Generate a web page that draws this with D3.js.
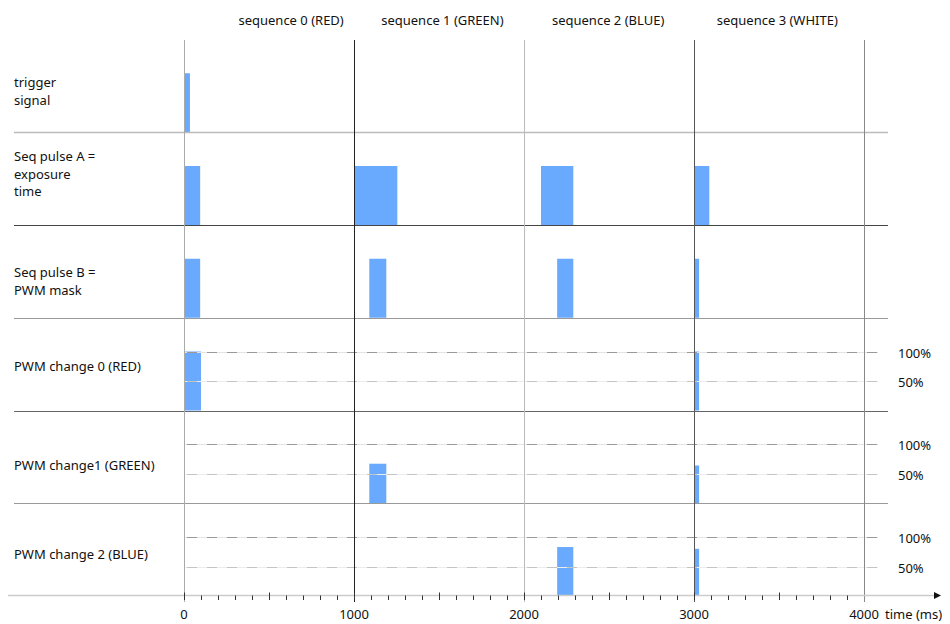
<!DOCTYPE html>
<html>
<head>
<meta charset="utf-8">
<script src="https://cdn.jsdelivr.net/npm/d3@7"></script>
<style>
  body { margin: 0; background: #fff; }
  text { font-family: "Noto Sans", sans-serif; font-size: 13px; fill: #111; }
</style>
</head>
<body>
<div id="chart"></div>
<script>
// row labels, one entry per line of text
var rowLabels = [
    ['trigger', 'signal'],
    ['Seq pulse A =', 'exposure', 'time'],
    ['Seq pulse B =', 'PWM mask'],
    ['PWM change 0 (RED)'],
    ['PWM change1 (GREEN)'],
    ['PWM change 2 (BLUE)']
]
// pulses per row: [start ms, end ms, level 0..1]
var triggerPulses = [[0, 35, 1]]
var seqAPulses = [[0, 95, 1], [1000, 1255, 1], [2100, 2290, 1], [3000, 3090, 1]]
var seqBPulses = [[0, 95, 1], [1090, 1190, 1], [2195, 2290, 1], [3000, 3030, 1]]
var pwm0Pulses = [[0, 100, 1], [3000, 3030, 1]]
var pwm1Pulses = [[1090, 1190, 0.67], [3000, 3030, 0.64]]
var pwm2Pulses = [[2195, 2290, 0.83], [3000, 3030, 0.8]]
var allPulses = [triggerPulses, seqAPulses, seqBPulses, pwm0Pulses, pwm1Pulses, pwm2Pulses]

var sequenceNames = ['sequence 0 (RED)', 'sequence 1 (GREEN)', 'sequence 2 (BLUE)', 'sequence 3 (WHITE)']
var sequenceLabelAt = [630, 1520, 2495, 3490]
var boundaries = [0, 1000, 2000, 3000, 4000]
var levelTicks = [1, 0.5]
var levelLabels = ['100%', '50%']

var width = 950
var height = 624

var svg = d3.select('#chart')
    .append('svg')
    .attr('width', width)
    .attr('height', height)

// time scale
var x = d3.scaleLinear().domain([0, 4000]).range([184, 864])

// rows stacked from top
var rowBand = d3.scaleBand()
    .domain(d3.range(rowLabels.length))
    .range([39.5, 596])
    .paddingInner(0)
var barH = 59

function levelScale(i) {
    var bottom = rowBand(i) + rowBand.bandwidth()
    return d3.scaleLinear().domain([0, 1]).range([bottom, bottom - barH])
}

// bars first, lines go on top
allPulses.forEach(function (pulses, i) {
    var y = levelScale(i)
    svg.append('g')
        .selectAll('rect')
        .data(pulses)
        .enter()
        .append('rect')
        .attr('x', function (d) { return x(d[0]) })
        .attr('width', function (d) { return x(d[1]) - x(d[0]) })
        .attr('y', function (d) { return y(d[2]) })
        .attr('height', function (d) { return y(0) - y(d[2]) })
        .attr('fill', '#69aaff')
})

// dashed level lines in the PWM rows
var pwmRows = [3, 4, 5]
pwmRows.forEach(function (i) {
    var y = levelScale(i)
    levelTicks.forEach(function (lv, k) {
        var yy = Math.round(y(lv)) + 0.5
        svg.append('line')
            .attr('x1', x(0)).attr('x2', 878)
            .attr('y1', yy).attr('y2', yy)
            .attr('stroke', k == 0 ? '#e4e4e4' : '#ececec')
        svg.append('line')
            .attr('x1', x(0) + 3).attr('x2', 878)
            .attr('y1', yy).attr('y2', yy)
            .attr('stroke', k == 0 ? '#999' : '#c4c4c4')
            .attr('stroke-dasharray', '10,10')
        svg.append('text')
            .attr('x', 898)
            .attr('y', yy + 5)
            .text(levelLabels[k])
    })
})

// row separators
var sepColors = ['#bbb', '#444', '#999', '#666', '#999']
d3.range(rowLabels.length - 1).forEach(function (i) {
    var yy = Math.round(rowBand(i) + rowBand.bandwidth()) + 0.5
    svg.append('line')
        .attr('x1', 14).attr('x2', 888)
        .attr('y1', yy).attr('y2', yy)
        .attr('stroke', sepColors[i])
        .attr('stroke-width', i == 0 ? 1.5 : 1)
})

// vertical sequence boundaries
var vColors = ['#aaa', '#222', '#bbb', '#555', '#888']
svg.append('g')
    .selectAll('line')
    .data(boundaries)
    .enter()
    .append('line')
    .attr('x1', function (d) { return Math.round(x(d)) + 0.5 })
    .attr('x2', function (d) { return Math.round(x(d)) + 0.5 })
    .attr('y1', 40)
    .attr('y2', 602)
    .attr('stroke', function (d, i) { return vColors[i] })

// time axis
var axisY = 595.5
svg.append('line')
    .attr('x1', 8).attr('x2', 934)
    .attr('y1', axisY).attr('y2', axisY)
    .attr('stroke', '#ccc')
    .attr('stroke-width', 1.5)
svg.append('path')
    .attr('d', 'M934,' + (axisY - 3.5) + 'L941,' + axisY + 'L934,' + (axisY + 3.5) + 'Z')
    .attr('fill', '#111')

var minorTicks = d3.range(0, 4000, 100)
svg.append('g')
    .selectAll('line')
    .data(minorTicks)
    .enter()
    .append('line')
    .attr('x1', function (d) { return Math.round(x(d)) + 0.5 })
    .attr('x2', function (d) { return Math.round(x(d)) + 0.5 })
    .attr('y1', function (d) { return d % 500 == 0 ? axisY - 3 : axisY })
    .attr('y2', axisY + 4.5)
    .attr('stroke', '#333')

svg.append('g')
    .selectAll('text')
    .data(boundaries)
    .enter()
    .append('text')
    .attr('x', function (d) { return x(d) })
    .attr('y', 619)
    .attr('text-anchor', 'middle')
    .text(function (d) { return d })

svg.append('text')
    .attr('x', 885)
    .attr('y', 619)
    .text('time (ms)')

// sequence titles
svg.append('g')
    .selectAll('text')
    .data(sequenceNames)
    .enter()
    .append('text')
    .attr('x', function (d, i) { return x(sequenceLabelAt[i]) })
    .attr('y', 25)
    .attr('text-anchor', 'middle')
    .text(function (d) { return d })

// row labels
var firstLineY = [87, 161, 277, 371, 470, 559]
rowLabels.forEach(function (lines, i) {
    var t = svg.append('text')
        .attr('x', 14)
        .attr('y', firstLineY[i])
    lines.forEach(function (line, k) {
        t.append('tspan')
            .attr('x', 14)
            .attr('dy', k == 0 ? 0 : 17.5)
            .text(line)
    })
})
</script>
</body>
</html>
